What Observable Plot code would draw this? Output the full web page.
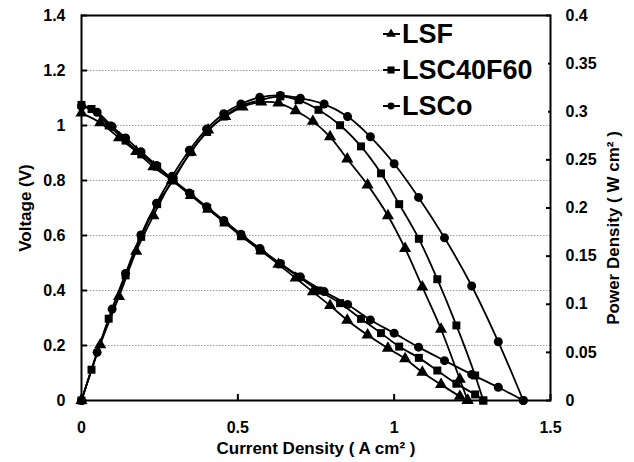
<!DOCTYPE html>
<html><head><meta charset="utf-8">
<script src="https://cdn.jsdelivr.net/npm/d3@7"></script>
<script src="https://cdn.jsdelivr.net/npm/@observablehq/plot@0.6"></script>
<style>
html,body{margin:0;padding:0;background:#fff;}
#wrap{position:relative;width:634px;height:462px;font-family:"Liberation Sans",Arial,sans-serif;}
#legend{position:absolute;left:382px;top:18px;width:166px;height:102px;background:#fff;}
</style></head><body><div id="wrap"><div id="legend"></div></div>
<script>
// ---- data ----
const seriesNames = ["LSF", "LSC40F60", "LSCo"];
const seriesSymbols = ["triangle", "square", "circle"];

const lsfCurrent = [0, 0.06, 0.12, 0.175, 0.23, 0.29, 0.35, 0.405, 0.46, 0.515, 0.575, 0.63, 0.685, 0.74, 0.795, 0.85, 0.915, 0.98, 1.035, 1.09, 1.15, 1.21, 1.235];
const lsfVoltage = [1.045, 1.01, 0.955, 0.905, 0.85, 0.80, 0.745, 0.695, 0.645, 0.595, 0.545, 0.495, 0.445, 0.395, 0.345, 0.292, 0.238, 0.19, 0.152, 0.103, 0.058, 0.015, 0];
const lsfPower   = [0, 0.058, 0.108, 0.155, 0.192, 0.229, 0.258, 0.281, 0.295, 0.305, 0.310, 0.309, 0.301, 0.290, 0.274, 0.251, 0.224, 0.192, 0.158, 0.118, 0.074, 0.022, 0];

const lscCurrent = [0, 0.032, 0.087, 0.141, 0.191, 0.242, 0.294, 0.348, 0.402, 0.455, 0.51, 0.572, 0.636, 0.694, 0.758, 0.827, 0.894, 0.958, 1.016, 1.079, 1.138, 1.199, 1.259, 1.285];
const lscVoltage = [1.075, 1.06, 1.0, 0.945, 0.895, 0.85, 0.80, 0.75, 0.70, 0.65, 0.60, 0.545, 0.495, 0.45, 0.40, 0.354, 0.297, 0.245, 0.196, 0.155, 0.109, 0.061, 0.022, 0];
const lscPower   = [0, 0.032, 0.085, 0.130, 0.170, 0.204, 0.229, 0.258, 0.279, 0.295, 0.306, 0.312, 0.316, 0.312, 0.302, 0.286, 0.264, 0.236, 0.204, 0.168, 0.126, 0.078, 0.026, 0];

const lscoCurrent = [0, 0.05, 0.098, 0.141, 0.19, 0.24, 0.29, 0.345, 0.40, 0.455, 0.51, 0.57, 0.636, 0.70, 0.776, 0.851, 0.924, 1.0, 1.078, 1.161, 1.248, 1.333, 1.413];
const lscoVoltage = [1.07, 1.048, 0.996, 0.955, 0.905, 0.855, 0.805, 0.755, 0.705, 0.655, 0.605, 0.553, 0.498, 0.449, 0.396, 0.349, 0.293, 0.245, 0.194, 0.145, 0.095, 0.048, 0];
const lscoPower   = [0, 0.050, 0.095, 0.132, 0.172, 0.205, 0.233, 0.260, 0.282, 0.298, 0.308, 0.315, 0.317, 0.314, 0.308, 0.295, 0.274, 0.246, 0.211, 0.169, 0.119, 0.061, 0];

const xTicks = [0, 0.5, 1, 1.5];
const voltageTicks = [0, 0.2, 0.4, 0.6, 0.8, 1, 1.2, 1.4];
const gridTicks = [0.2, 0.4, 0.6, 0.8, 1, 1.2];
const powerTicks = [0, 0.05, 0.1, 0.15, 0.2, 0.25, 0.3, 0.35, 0.4];
const xTitle = "Current Density ( A cm² )";
const yTitle = "Voltage (V)";
const y2Title = "Power Density ( W cm² )";
const voltageMax = 1.4, powerMax = 0.4;

// ---- build table ----
const K = voltageMax / powerMax;
const raw = [[lsfCurrent, lsfVoltage, lsfPower], [lscCurrent, lscVoltage, lscPower], [lscoCurrent, lscoVoltage, lscoPower]];
const rows = [];
raw.forEach(([I, V, P], s) => I.forEach((c, i) => rows.push({series: seriesNames[s], I: c, V: V[i], P: P[i], Py: P[i] * K})));

const font = "Liberation Sans, Arial, sans-serif";
const chart = Plot.plot({
  width: 634, height: 462,
  marginLeft: 81, marginRight: 84, marginTop: 15, marginBottom: 62,
  style: {fontFamily: font, fontWeight: "bold", background: "white", color: "black"},
  x: {domain: [0, 1.5]},
  y: {domain: [0, voltageMax]},
  symbol: {domain: seriesNames, range: seriesSymbols},
  marks: [
    Plot.gridY(gridTicks, {stroke: "#9a9a9a", strokeOpacity: 1, strokeWidth: 1, strokeDasharray: "1.5,1.5"}),
    Plot.line(rows, {x: "I", y: "V", z: "series", curve: "catmull-rom", stroke: "black", strokeWidth: 1.8}),
    Plot.line(rows, {x: "I", y: "Py", z: "series", curve: "catmull-rom", stroke: "black", strokeWidth: 1.8}),
    Plot.dot(rows, {x: "I", y: "V", symbol: "series", fill: "black", stroke: "none", r: 4.5}),
    Plot.dot(rows, {x: "I", y: "Py", symbol: "series", fill: "black", stroke: "none", r: 4.5}),
    Plot.frame({stroke: "black", strokeWidth: 2}),
    // tick labels
    Plot.axisX(xTicks, {anchor: "bottom", tickSize: 0, tickPadding: 21, fontSize: 16, label: null, tickFormat: d => String(d)}),
    Plot.axisX(xTicks, {anchor: "bottom", tickSize: -6, strokeWidth: 2, label: null, tickFormat: () => ""}),
    Plot.axisY(voltageTicks, {anchor: "left", tickSize: 0, tickPadding: 16, fontSize: 16, label: null, tickFormat: d => String(d)}),
    Plot.axisY(voltageTicks, {anchor: "left", tickSize: -6, strokeWidth: 2, label: null, tickFormat: () => ""}),
    Plot.axisY(powerTicks.map(p => p * K), {anchor: "right", tickSize: 0, tickPadding: 15, fontSize: 16, label: null, tickFormat: d => String(+(d / K).toFixed(3))}),
    Plot.axisY(powerTicks.map(p => p * K), {anchor: "right", tickSize: -5, strokeWidth: 2, label: null, tickFormat: () => ""}),
    // axis titles
    Plot.text([xTitle], {text: d => d, frameAnchor: "bottom", dy: 48, textAnchor: "middle", lineAnchor: "middle", fontSize: 17, fontWeight: "bold"}),
    Plot.text([yTitle], {text: d => d, frameAnchor: "left", dx: -56, rotate: -90, textAnchor: "middle", lineAnchor: "middle", fontSize: 17, fontWeight: "bold"}),
    Plot.text([y2Title], {text: d => d, frameAnchor: "right", dx: 63, dy: 20, rotate: -90, textAnchor: "middle", lineAnchor: "middle", fontSize: 17, fontWeight: "bold"})
  ]
});
document.getElementById("wrap").prepend(chart);

// ---- legend ----
const lg = d3.select("#legend").append("svg").attr("width", 166).attr("height", 102);
const legendSymbols = [d3.symbolTriangle, d3.symbolSquare, d3.symbolCircle];
const legendSizes = [40, 50, 38];
seriesNames.forEach((name, i) => {
  const cy = 16 + i * 36;
  const g = lg.append("g");
  g.append("line").attr("x1", 1).attr("x2", 18).attr("y1", cy).attr("y2", cy).attr("stroke", "black").attr("stroke-width", 2);
  g.append("path").attr("d", d3.symbol(legendSymbols[i], legendSizes[i])()).attr("transform", `translate(9,${cy})`).attr("fill", "black");
  g.append("text").attr("x", 20).attr("y", cy + 9).attr("font-family", font).attr("font-weight", "bold").attr("font-size", 27).attr("fill", "black").text(name);
});
</script></body></html>
